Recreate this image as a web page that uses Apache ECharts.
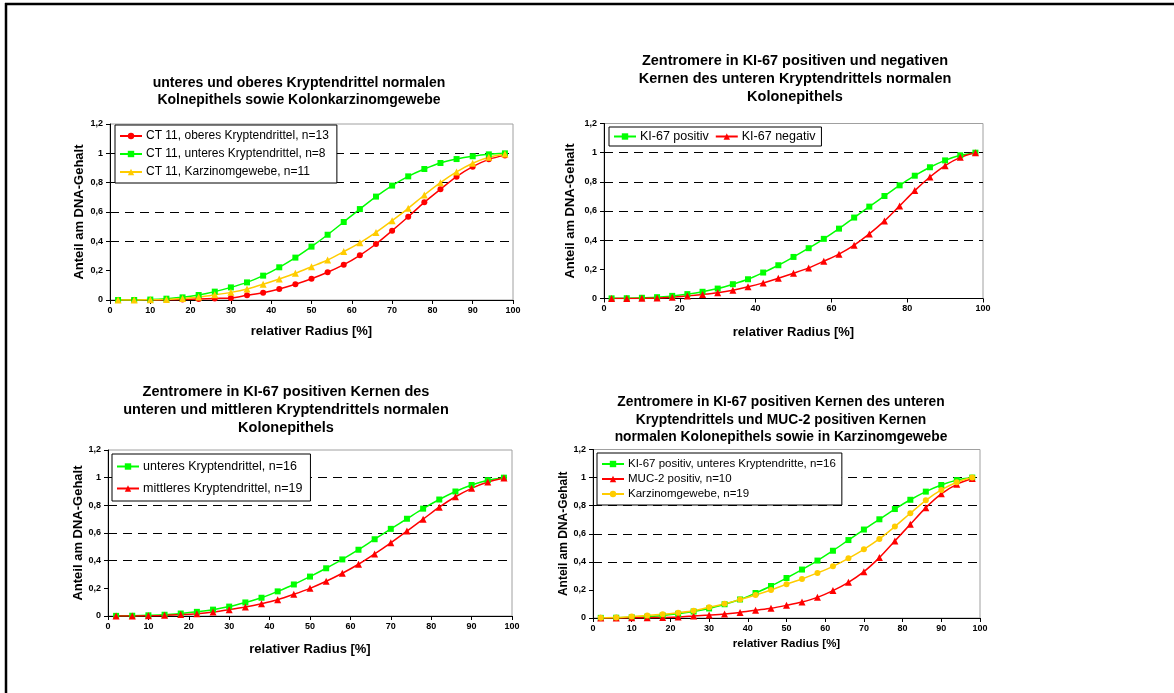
<!DOCTYPE html>
<html>
<head>
<meta charset="utf-8">
<script src="https://cdn.jsdelivr.net/npm/echarts@6/dist/echarts.min.js"></script>
<style>
html,body{margin:0;padding:0;background:#fff;}
#c{width:1174px;height:693px;}
</style>
</head>
<body>
<div id="c"></div>
<script>
// ---- data ----
const xRadius = [2,6,10,14,18,22,26,30,34,38,42,46,50,54,58,62,66,70,74,78,82,86,90,94,98];
const yTickLabels = ['0','0,2','0,4','0,6','0,8','1','1,2'];

const titles = [
  'unteres und oberes Kryptendrittel normalen\nKolnepithels sowie Kolonkarzinomgewebe',
  'Zentromere in KI-67 positiven und negativen\nKernen des unteren Kryptendrittels normalen\nKolonepithels',
  'Zentromere in KI-67 positiven Kernen des\nunteren und mittleren Kryptendrittels normalen\nKolonepithels',
  'Zentromere in KI-67 positiven Kernen des unteren\nKryptendrittels und MUC-2 positiven Kernen\nnormalen Kolonepithels sowie in Karzinomgewebe'
];
const xAxisName = 'relativer Radius [%]';
const yAxisName = 'Anteil am DNA-Gehalt';

// panel 1
const p1Names = ['CT 11, oberes Kryptendrittel, n=13','CT 11, unteres Kryptendrittel, n=8','CT 11, Karzinomgewebe, n=11'];
const p1Oberes = [0,0,0,0.001,0.003,0.007,0.011,0.014,0.032,0.05,0.075,0.107,0.145,0.189,0.241,0.305,0.382,0.473,0.568,0.666,0.755,0.841,0.909,0.959,0.986];
const p1Unteres = [0,0,0.003,0.009,0.018,0.034,0.057,0.086,0.12,0.166,0.223,0.289,0.364,0.445,0.532,0.62,0.705,0.78,0.843,0.893,0.934,0.961,0.98,0.993,1.0];
const p1Karzinom = [0,0,0.002,0.004,0.01,0.02,0.035,0.052,0.075,0.107,0.143,0.182,0.227,0.273,0.33,0.39,0.461,0.541,0.625,0.716,0.8,0.873,0.932,0.973,0.995];
// panel 2
const p2Names = ['KI-67 positiv','KI-67 negativ'];
const ki67Pos = [0.001,0.002,0.005,0.009,0.018,0.03,0.046,0.068,0.098,0.132,0.178,0.228,0.285,0.345,0.409,0.479,0.555,0.63,0.703,0.776,0.842,0.9,0.947,0.982,1.0];
const ki67Neg = [0,0,0.001,0.003,0.009,0.018,0.028,0.04,0.057,0.08,0.107,0.139,0.173,0.21,0.256,0.304,0.366,0.443,0.532,0.635,0.74,0.833,0.911,0.968,1.0];
// panel 3
const p3Names = ['unteres Kryptendrittel, n=16','mittleres Kryptendrittel, n=19'];
const mittleres = [0,0,0.001,0.005,0.01,0.017,0.029,0.046,0.065,0.089,0.118,0.157,0.2,0.251,0.309,0.374,0.449,0.529,0.614,0.7,0.787,0.862,0.923,0.969,0.998];
// panel 4
const p4Names = ['KI-67 positiv, unteres Kryptendritte, n=16','MUC-2 positiv, n=10','Karzinomgewebe, n=19'];
const muc2 = [0,0,0.001,0.002,0.004,0.007,0.014,0.021,0.029,0.04,0.055,0.069,0.09,0.114,0.147,0.195,0.254,0.33,0.43,0.549,0.667,0.786,0.884,0.952,0.993];
const karz19 = [0.002,0.003,0.01,0.017,0.026,0.038,0.052,0.076,0.102,0.131,0.164,0.2,0.24,0.278,0.321,0.368,0.425,0.489,0.563,0.651,0.746,0.838,0.912,0.967,1.0];

// ---- styling ----
const FONT = '"Liberation Sans", Arial, sans-serif';
const RED = '#FF0000', GREEN = '#00FF00', YELLOW = '#FFCC00';

const grids = [
  {left:110, top:124, width:403, height:176},
  {left:604, top:123.5, width:379, height:175},
  {left:108, top:450, width:404, height:166},
  {left:593, top:449.5, width:387, height:168.5}
];
const xIntervals = [10,20,10,10];
const yNameGaps = [24.5,27,23.5,19];
const xNameGaps = [25,27,26.5,20];
const xNameSizes = [13,13,13,11.5];
const yNameSizes = [13,13,13,12];

const titleCfg = [
  {x:299, top:75, size:14, lh:17},
  {x:795, top:52, size:14.5, lh:18},
  {x:286, top:383, size:14.5, lh:18},
  {x:781, top:393.5, size:13.8, lh:17.5}
];

function mk(arr){ return xRadius.map((x,i)=>[x, arr[i]]); }

const seriesDefs = [
  {g:0, name:p1Names[0], data:p1Oberes, color:RED, symbol:'circle'},
  {g:0, name:p1Names[1], data:p1Unteres, color:GREEN, symbol:'rect'},
  {g:0, name:p1Names[2], data:p1Karzinom, color:YELLOW, symbol:'triangle'},
  {g:1, name:p2Names[0], data:ki67Pos, color:GREEN, symbol:'rect'},
  {g:1, name:p2Names[1], data:ki67Neg, color:RED, symbol:'triangle'},
  {g:2, name:p3Names[0], data:ki67Pos, color:GREEN, symbol:'rect'},
  {g:2, name:p3Names[1], data:mittleres, color:RED, symbol:'triangle'},
  {g:3, name:p4Names[0], data:ki67Pos, color:GREEN, symbol:'rect'},
  {g:3, name:p4Names[1], data:muc2, color:RED, symbol:'triangle'},
  {g:3, name:p4Names[2], data:karz19, color:YELLOW, symbol:'circle'}
];

const option = {
  animation:false,
  backgroundColor:'#fff',
  textStyle:{fontFamily:FONT},
  title: titles.map((t,i)=>({
    text:t, left:titleCfg[i].x, top:titleCfg[i].top, textAlign:'center', padding:0,
    textStyle:{fontFamily:FONT, fontWeight:'bold', fontSize:titleCfg[i].size, lineHeight:titleCfg[i].lh, color:'#000'}
  })),
  grid: grids.map(g=>Object.assign({show:true, borderColor:'#a0a0a0', borderWidth:1, backgroundColor:'#fff'}, g)),
  xAxis: grids.map((g,i)=>({
    type:'value', gridIndex:i, min:0, max:100, interval:xIntervals[i],
    name:xAxisName, nameLocation:'middle', nameGap:xNameGaps[i],
    nameTextStyle:{fontFamily:FONT, fontWeight:'bold', fontSize:xNameSizes[i], color:'#000'},
    axisLine:{show:true, onZero:false, lineStyle:{color:'#000', width:1}},
    axisTick:{show:true, length:4, lineStyle:{color:'#000'}},
    axisLabel:{fontFamily:FONT, fontWeight:'bold', fontSize:9, color:'#000', margin:6},
    splitLine:{show:false}
  })),
  yAxis: grids.map((g,i)=>({
    type:'value', gridIndex:i, min:0, max:1.2, interval:0.2,
    name:yAxisName, nameLocation:'middle', nameGap:yNameGaps[i],
    nameTextStyle:{fontFamily:FONT, fontWeight:'bold', fontSize:yNameSizes[i], color:'#000'},
    axisLine:{show:true, lineStyle:{color:'#000', width:1}},
    axisTick:{show:true, length:4, lineStyle:{color:'#000'}},
    axisLabel:{fontFamily:FONT, fontWeight:'bold', fontSize:9, color:'#000', margin:7,
      formatter:v=>yTickLabels[Math.round(v/0.2)]},
    splitLine:{show:true, showMinLine:false, showMaxLine:false,
      lineStyle:{type:[9,6], width:1, color:['rgba(0,0,0,0)','#000','#000','#000','#000','#000','rgba(0,0,0,0)']}}
  })),
  legend: [
    {data:p1Names, left:115, top:125, orient:'vertical', itemGap:6, fs:12, pad:[5,8,5,4]},
    {data:p2Names, left:609, top:127, orient:'horizontal', itemGap:6, fs:12.5, pad:[3,6,3,4]},
    {data:p3Names, left:112, top:454, orient:'vertical', itemGap:9, fs:12.5, pad:[6,8,6,4]},
    {data:p4Names, left:597, top:453, orient:'vertical', itemGap:3, fs:11.5, pad:[5,6,5,4]}
  ].map(l=>({
    data:l.data, left:l.left, top:l.top, orient:l.orient, itemGap:l.itemGap,
    itemWidth:22, itemHeight:8, padding:l.pad,
    borderColor:'#000', borderWidth:1, backgroundColor:'#fff',
    selectedMode:false,
    textStyle:{fontFamily:FONT, fontSize:l.fs, color:'#000', padding:[0,0,0,-1]}
  })),
  series: seriesDefs.map(s=>({
    type:'line', name:s.name, xAxisIndex:s.g, yAxisIndex:s.g,
    data:mk(s.data), smooth:0.3,
    symbol:s.symbol, symbolSize:s.symbol==='triangle'?7:6,
    showAllSymbol:true,
    itemStyle:{color:s.color, borderWidth:0},
    lineStyle:{color:s.color, width:1.5}
  })),
  graphic:[
    {type:'line', shape:{x1:5, y1:4, x2:1174, y2:4}, style:{stroke:'#000', lineWidth:2.5}, silent:true},
    {type:'line', shape:{x1:6, y1:3, x2:6, y2:693}, style:{stroke:'#000', lineWidth:2.5}, silent:true}
  ]
};

const chart = echarts.init(document.getElementById('c'), null, {renderer:'canvas'});
chart.setOption(option);
</script>
</body>
</html>
